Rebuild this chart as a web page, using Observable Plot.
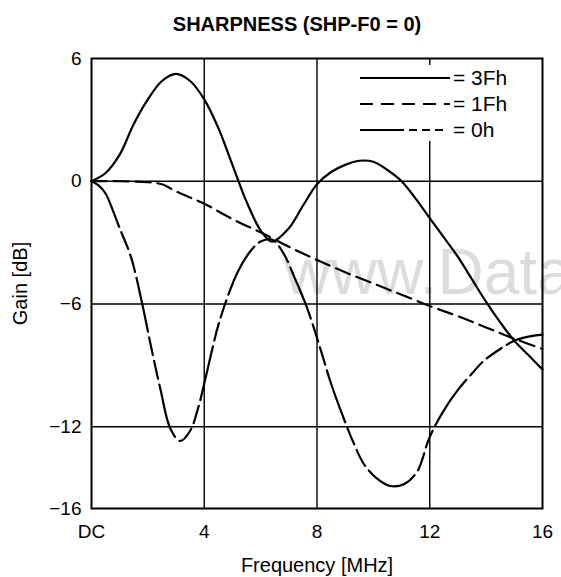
<!DOCTYPE html>
<html>
<head>
<meta charset="utf-8">
<script src="https://cdn.jsdelivr.net/npm/d3@7"></script>
<script src="https://cdn.jsdelivr.net/npm/@observablehq/plot@0.6"></script>
<style>
  body { margin: 0; background: #fff; }
  #wrap { position: relative; width: 561px; height: 577px; overflow: hidden; background: #fff;
          font-family: Arial, "Liberation Sans", Helvetica, sans-serif; }
  #title { position: absolute; left: 0; top: 0; width: 561px; height: 44px; box-sizing: border-box;
           padding-left: 33px; text-align: center; line-height: 48px; font-weight: bold; font-size: 20px; color: #000; }
  #chart { position: absolute; left: 0; top: 44px; }
  #legend { position: absolute; left: 0; top: 0; pointer-events: none; }
  #chart svg [aria-label="x-axis label"] text,
  #chart svg [aria-label="y-axis label"] text { font-size: 20px; }
</style>
</head>
<body>
<div id="wrap">
  <div id="title"></div>
  <div id="chart"></div>
  <svg id="legend" width="561" height="577"></svg>
</div>
<script>
// ---- data ----
const titleText = "SHARPNESS (SHP-F0 = 0)";
const xLabel = "Frequency [MHz]";
const yLabel = "Gain [dB]";
const watermarkText = "www.Data";

const xTicks = [0, 4, 8, 12, 16];
const xTickLabels = ["DC", "4", "8", "12", "16"];
const yTicks = [6, 0, -6, -12, -16];
const gridX = [4, 8, 12];
const gridY = [0, -6, -12];

const seriesNames = ["3Fh", "1Fh", "0h"];

const freq3Fh = [0, 0.5, 1, 1.5, 2, 2.5, 3, 3.5, 4, 4.5, 5, 5.5, 6, 6.4, 7, 7.5, 8, 8.5, 9, 9.5, 10, 10.5, 11, 11.5, 12, 12.5, 13, 13.5, 14, 14.5, 15, 15.5, 16];
const gain3Fh = [0, 0.4, 1.3, 2.8, 4.0, 4.9, 5.25, 4.9, 4.0, 2.6, 0.8, -1.0, -2.4, -2.95, -2.3, -1.2, -0.15, 0.45, 0.8, 1.0, 0.95, 0.55, 0.0, -0.85, -1.8, -2.75, -3.7, -4.8, -5.9, -6.9, -7.8, -8.5, -9.2];

const freq1Fh = [0, 1, 2, 2.5, 3, 3.5, 4, 5, 6, 7, 8, 9, 10, 11, 12, 13, 14, 15, 16];
const gain1Fh = [0, 0, -0.05, -0.15, -0.5, -0.8, -1.1, -1.85, -2.5, -3.2, -3.85, -4.45, -5.0, -5.55, -6.1, -6.6, -7.15, -7.7, -8.2];

const freq0h = [0, 0.25, 0.5, 0.75, 1, 1.4, 1.8, 2.1, 2.45, 2.8, 3.15, 3.5, 3.8, 4.1, 4.55, 5.2, 5.65, 6.0, 6.4, 6.8, 7.2, 7.65, 8.1, 8.5, 8.95, 9.3, 9.65, 10.1, 10.6, 11.1, 11.55, 12, 12.5, 13, 13.5, 13.9, 14.5, 15, 15.5, 16];
const gain0h = [0, -0.2, -0.6, -1.4, -2.3, -3.7, -6.0, -8.0, -10.2, -12.1, -12.7, -12.2, -11.0, -9.3, -6.8, -4.4, -3.4, -2.95, -2.85, -3.5, -4.7, -6.2, -8.1, -9.9, -11.6, -12.8, -13.8, -14.5, -14.9, -14.8, -14.2, -12.5, -11.2, -10.2, -9.4, -8.8, -8.2, -7.8, -7.6, -7.5];

// ---- build tables ----
const toRows = (xs, ys, name) => xs.map((x, i) => ({ freq: x, gain: ys[i], series: name }));
const rows3Fh = toRows(freq3Fh, gain3Fh, seriesNames[0]);
const rows1Fh = toRows(freq1Fh, gain1Fh, seriesNames[1]);
const rows0h = toRows(freq0h, gain0h, seriesNames[2]);

const dashes = { "3Fh": null, "1Fh": "15,7", "0h": "55,6,18,6,18,6" };
const legendDashes = { "3Fh": null, "1Fh": "13,8", "0h": "44,5,8,5,8,5,8" };

const font = 'Arial, "Liberation Sans", Helvetica, sans-serif';

document.getElementById("title").textContent = titleText;

const plot = Plot.plot({
  width: 561,
  height: 533,
  marginTop: 14,
  marginLeft: 91,
  marginRight: 19,
  marginBottom: 69,
  style: { fontFamily: font, fontSize: "19px", color: "#000", background: "transparent", overflow: "hidden" },
  x: {
    domain: [0, 16], ticks: xTicks, tickSize: 0, tickPadding: 16,
    tickFormat: d => xTickLabels[xTicks.indexOf(d)],
    label: xLabel, labelAnchor: "center", labelOffset: 63, labelArrow: "none"
  },
  y: {
    domain: [-16, 6], ticks: yTicks, tickSize: 0, tickPadding: 10,
    tickFormat: d => d < 0 ? "\u2212" + Math.abs(d) : String(d),
    label: yLabel, labelAnchor: "center", labelOffset: 79, labelArrow: "none"
  },
  marks: [
    Plot.text([watermarkText], { x: 6.85, y: -5.5, text: d => d, textAnchor: "start", lineAnchor: "bottom",
      fontSize: 64, fill: "#dcdcdc", fontFamily: font }),
    Plot.ruleX(gridX, { stroke: "#000", strokeWidth: 1.4 }),
    Plot.ruleY(gridY, { stroke: "#000", strokeWidth: 1.4 }),
    Plot.line(rows1Fh, { x: "freq", y: "gain", stroke: "#000", strokeWidth: 2.2, strokeDasharray: dashes["1Fh"], curve: "catmull-rom" }),
    Plot.line(rows0h, { x: "freq", y: "gain", stroke: "#000", strokeWidth: 2.2, strokeDasharray: dashes["0h"], curve: "catmull-rom" }),
    Plot.line(rows3Fh, { x: "freq", y: "gain", stroke: "#000", strokeWidth: 2.2, curve: "catmull-rom" }),
    Plot.frame({ stroke: "#000", strokeWidth: 2 })
  ]
});
document.getElementById("chart").appendChild(plot);

// ---- legend (built from the series names) ----
const svg = d3.select("#legend");
svg.append("rect").attr("x", 350).attr("y", 65).attr("width", 188).attr("height", 76).attr("fill", "#fff");
const legendTop = 78, legendGap = 26;
seriesNames.forEach((name, i) => {
  const y = legendTop + i * legendGap;
  const ln = svg.append("line").attr("x1", 360).attr("x2", 450).attr("y1", y).attr("y2", y)
    .attr("stroke", "#000").attr("stroke-width", 2.2);
  if (legendDashes[name]) ln.attr("stroke-dasharray", legendDashes[name]);
  svg.append("text").attr("x", 453).attr("y", y).attr("dy", "0.35em")
    .attr("font-family", font).attr("font-size", 21).attr("fill", "#000")
    .text("= " + name);
});
</script>
</body>
</html>
